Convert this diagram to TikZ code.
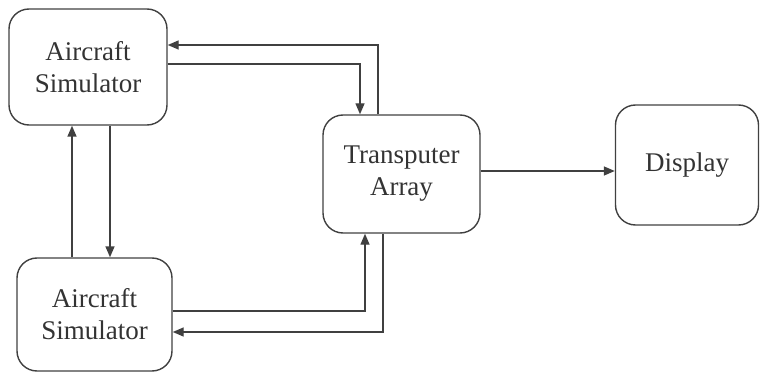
\documentclass[tikz,border=0pt]{standalone}
\usepackage{fontspec}
\setmainfont{Liberation Serif}
\usetikzlibrary{arrows.meta}
\begin{document}
\begin{tikzpicture}[x=1pt,y=-1pt,
  blk/.style={draw=black!75, line width=1.4pt, rounded corners=20pt, align=center,
    inner sep=0pt, font=\fontsize{27}{32}\selectfont, text=black!80},
  arr/.style={draw=black!75, line width=1.4pt, -{Triangle[length=11pt,width=9pt]}}]
\useasboundingbox (0,0) rectangle (760,374);
\node[blk, minimum width=158pt, minimum height=116pt] (A1) at (88,67) {Aircraft\\Simulator};
\node[blk, minimum width=155pt, minimum height=113pt] (A2) at (94.5,314.5) {Aircraft\\Simulator};
\node[blk, minimum width=157pt, minimum height=118pt] (T) at (401.5,174) {Transputer\\Array};
\node[blk, minimum width=143pt, minimum height=120pt] (D) at (687,165) {Display};
% top box <-> transputer
\draw[arr] (A1.east |- 0,64) -- (360,64) -- (T.north -| 360,0);
\draw[arr] (T.north -| 378,0) -- (378,45) -- (A1.east |- 0,45);
% between the simulators
\draw[arr] (A2.north -| 72,0) -- (A1.south -| 72,0);
\draw[arr] (A1.south -| 110,0) -- (A2.north -| 110,0);
% bottom box <-> transputer
\draw[arr] (A2.east |- 0,311) -- (365,311) -- (T.south -| 365,0);
\draw[arr] (T.south -| 383,0) -- (383,332) -- (A2.east |- 0,332);
% transputer -> display
\draw[arr] (T.east |- 0,171) -- (D.west |- 0,171);
\end{tikzpicture}
\end{document}
